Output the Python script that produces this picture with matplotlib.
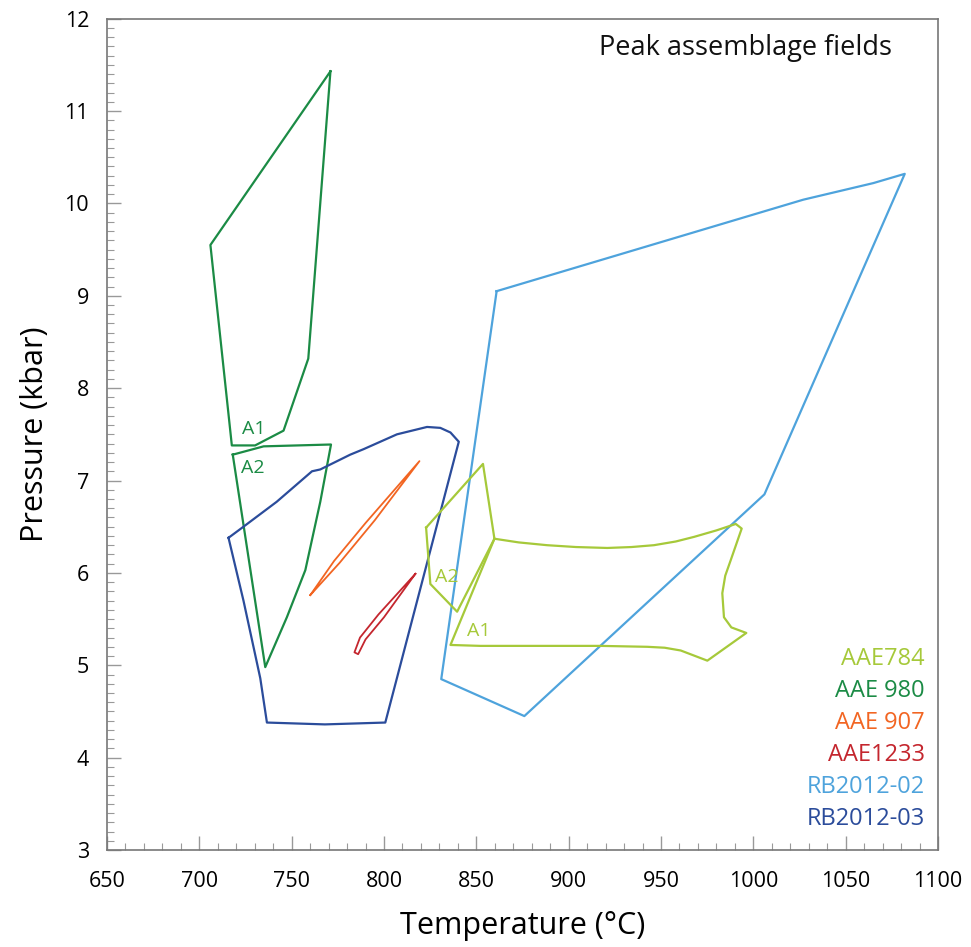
import numpy as np
import matplotlib.pyplot as plt
from matplotlib.ticker import MultipleLocator

plt.rcParams['font.family'] = ['Open Sans', 'DejaVu Sans']

# field outlines, temperature (C) and pressure (kbar)
aae980_a1_T = [771, 759, 745.6, 730.2, 717.6, 706, 771]
aae980_a1_P = [11.43, 8.32, 7.54, 7.38, 7.38, 9.55, 11.43]

aae980_a2_T = [718.1, 734.8, 771.3, 765.5, 757.4, 747.4, 735.7, 718.1]
aae980_a2_P = [7.28, 7.37, 7.39, 6.77, 6.03, 5.52, 4.98, 7.28]

aae784_a2_T = [822.8, 853.6, 859.8, 839.6, 825.1, 822.8]
aae784_a2_P = [6.49, 7.18, 6.37, 5.58, 5.88, 6.49]

aae784_a1_T = [859.8, 836.0, 852.2, 917.0, 942.6, 952.0, 960.7, 975.1, 996.2,
               988.1, 984.1, 983.2, 984.8, 987.8, 993.7, 990.5, 980.0, 967.9,
               958.0, 946.2, 934.0, 920.9, 904.0, 888.3, 873.0, 859.8]
aae784_a1_P = [6.37, 5.22, 5.21, 5.21, 5.20, 5.19, 5.16, 5.05, 5.35,
               5.41, 5.52, 5.78, 5.97, 6.14, 6.48, 6.53, 6.46, 6.39,
               6.34, 6.30, 6.28, 6.27, 6.28, 6.30, 6.33, 6.37]

aae907_T = [760.1, 773.0, 790.0, 819.2, 795.0, 776.0, 760.1]
aae907_P = [5.76, 6.13, 6.54, 7.21, 6.57, 6.11, 5.76]

aae1233_T = [817, 797, 787, 784, 786, 790, 800, 817]
aae1233_P = [5.99, 5.55, 5.30, 5.14, 5.12, 5.28, 5.52, 5.99]

rb02_T = [861, 1027, 1065, 1082, 1006, 876, 831, 861]
rb02_P = [9.05, 10.04, 10.22, 10.32, 6.85, 4.45, 4.85, 9.05]

rb03_T = [715.8, 723.9, 733.0, 736.6, 768, 800.7, 840.5, 836, 830.5, 823.3,
          807, 789, 781.7, 765.5, 761, 741.9, 723.9, 715.8]
rb03_P = [6.38, 5.70, 4.86, 4.38, 4.36, 4.38, 7.42, 7.52, 7.57, 7.58,
          7.50, 7.34, 7.28, 7.12, 7.10, 6.77, 6.50, 6.38]

names = ['AAE784', 'AAE 980', 'AAE 907', 'AAE1233', 'RB2012-02', 'RB2012-03']
colors = ['#a6c93a', '#1b8b45', '#f26522', '#c4262e', '#4ea3dc', '#2b4c9b']

fig = plt.figure(figsize=(9.71, 9.47), dpi=100)
ax = fig.add_axes([0.1102, 0.1024, 0.8558, 0.8779])

lw = 1.6
ax.plot(aae980_a1_T, aae980_a1_P, color=colors[1], lw=lw)
ax.plot(aae980_a2_T, aae980_a2_P, color=colors[1], lw=lw)
ax.plot(rb02_T, rb02_P, color=colors[4], lw=lw)
ax.plot(rb03_T, rb03_P, color=colors[5], lw=lw)
ax.plot(aae784_a2_T, aae784_a2_P, color=colors[0], lw=lw)
ax.plot(aae784_a1_T, aae784_a1_P, color=colors[0], lw=lw)
ax.plot(aae907_T, aae907_P, color=colors[2], lw=1.3)
ax.plot(aae1233_T, aae1233_P, color=colors[3], lw=1.3)

# field labels
ax.text(729.2, 7.56, 'A1', color=colors[1], fontsize=14, ha='center', va='center')
ax.text(729.2, 7.14, 'A2', color=colors[1], fontsize=14, ha='center', va='center')
ax.text(833.8, 5.96, 'A2', color=colors[0], fontsize=14, ha='center', va='center')
ax.text(851.2, 5.37, 'A1', color=colors[0], fontsize=14, ha='center', va='center')

ax.text(0.945, 0.965, 'Peak assemblage fields', transform=ax.transAxes,
        fontsize=19.5, ha='right', va='center', color='#111111')

# sample list, bottom right
for i, (nm, c) in enumerate(zip(names, colors)):
    ax.text(0.984, 0.2296 - i * 0.0385, nm, transform=ax.transAxes,
            fontsize=17, ha='right', va='center', color=c)

ax.set_xlim(650, 1100)
ax.set_ylim(3, 12)
ax.xaxis.set_major_locator(MultipleLocator(50))
ax.xaxis.set_minor_locator(MultipleLocator(10))
ax.yaxis.set_major_locator(MultipleLocator(1))
ax.yaxis.set_minor_locator(MultipleLocator(0.1))
ax.tick_params(which='both', direction='in', color='#999999')
ax.tick_params(which='major', length=10, width=1)
ax.tick_params(which='minor', length=5, width=0.8)
ax.tick_params(axis='x', which='major', pad=15, labelsize=15.5)
ax.tick_params(axis='y', which='major', pad=13, labelsize=15.5)
for s in ax.spines.values():
    s.set_color('#777777')
    s.set_linewidth(1.2)

ax.set_xlabel('Temperature (°C)', fontsize=22, labelpad=14)
ax.set_ylabel('Pressure (kbar)', fontsize=22, labelpad=10)

fig.savefig('out.png', dpi=100)
